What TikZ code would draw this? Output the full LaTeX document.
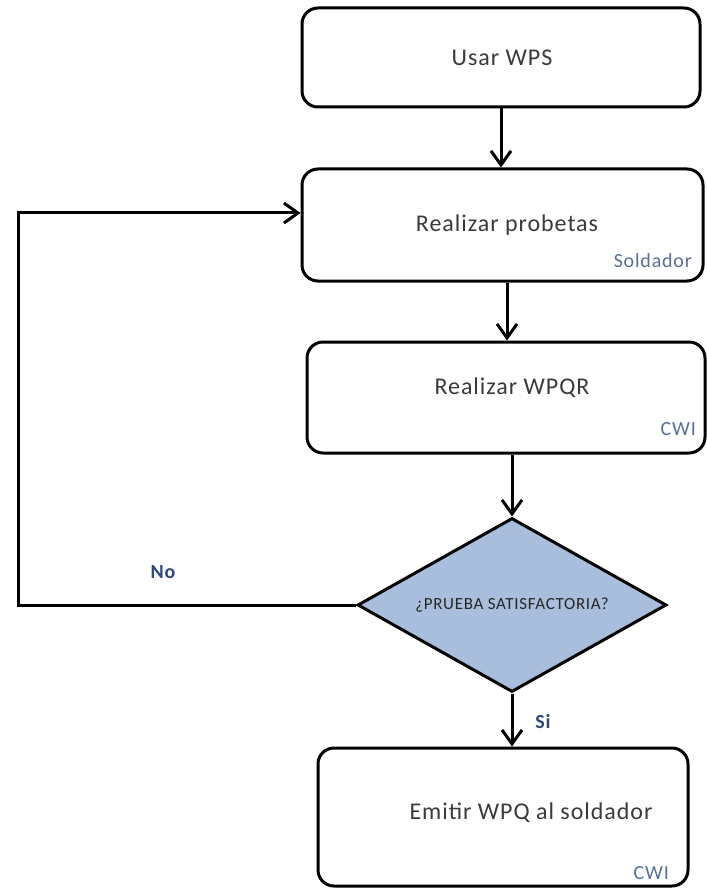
\documentclass[tikz,border=0pt]{standalone}
\usepackage{fontspec}
\setmainfont{Carlito}[LetterSpace=4]
\usetikzlibrary{arrows.meta,shapes.geometric}
\definecolor{textgray}{HTML}{3A3A3A}
\definecolor{rolecol}{HTML}{56709A}
\definecolor{branchcol}{HTML}{2E4A78}
\definecolor{decfill}{HTML}{A8BEDC}
\begin{document}
\begin{tikzpicture}[x=1pt,y=-1pt,
  stepbox/.style={draw=black, line width=3pt, rounded corners=16pt, fill=white, inner sep=0pt},
  steptext/.style={text=textgray, font=\fontsize{24}{28}\selectfont, inner sep=0pt},
  role/.style={text=rolecol, font=\fontsize{20}{23}\selectfont, inner sep=0pt, anchor=base east},
  decision/.style={diamond, draw=black, line width=3pt, fill=decfill, inner sep=0pt,
    aspect=1.77, text=black!85, font=\fontsize{17}{20}\selectfont},
  flow/.style={line width=3pt, -{Straight Barb[length=14pt,width=20pt]}},
  branch/.style={text=branchcol, font=\bfseries\fontsize{20}{24}\selectfont, inner sep=0pt}]
\useasboundingbox (0,0) rectangle (706,890);
\fill[white] (0,0) rectangle (706,890);

% process steps
\node[stepbox, minimum width=398pt, minimum height=99pt] (b1) at (501,57.5) {};
\node[steptext] (t1) at (502,58) {Usar WPS};

\node[stepbox, minimum width=401pt, minimum height=112pt] (b2) at (502.5,225) {};
\node[steptext] (t2) at (507,225) {Realizar probetas};
\node[role] (r2) at (692,268) {Soldador};

\node[stepbox, minimum width=398pt, minimum height=111pt] (b3) at (506,397.5) {};
\node[steptext] (t3) at (512,388) {Realizar WPQR};
\node[role] (r3) at (696,435) {CWI};

% decision
\node[decision, minimum width=309pt, minimum height=174pt] (d) at (512,605) {¿PRUEBA SATISFACTORIA?};

\node[stepbox, minimum width=370pt, minimum height=138pt] (b4) at (503,817) {};
\node[steptext] (t4) at (531,813) {Emitir WPQ al soldador};
\node[role] (r4) at (669,879) {CWI};

% branch labels
\node[branch] (no) at (163,572) {No};
\node[branch] (si) at (543,722) {Si};

% connectors
\draw[flow] (b1.south) -- (b1.south |- b2.north);
\draw[flow] ([xshift=4.5pt]b2.south) -- ([xshift=4.5pt]b2.south |- b3.north);
\draw[flow] (b3.south -| d.north) -- (d.north);
\draw[flow] (d.south) -- (d.south |- b4.north);

\coordinate (lb) at (18,605);
\coordinate (lt) at (18,213);
\draw[flow] (d.west) -- (lb) -- (lt) -- (lt -| b2.west);
\end{tikzpicture}
\end{document}
